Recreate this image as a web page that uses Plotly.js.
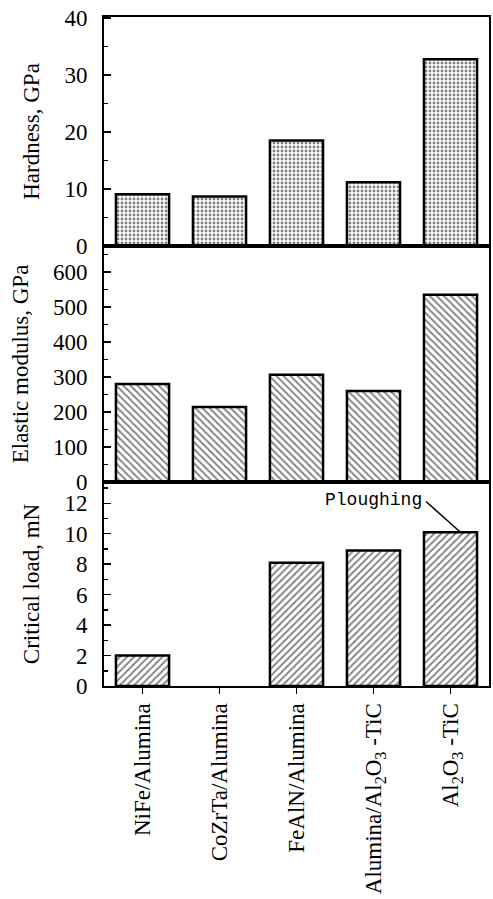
<!DOCTYPE html>
<html>
<head>
<meta charset="utf-8">
<script src="https://cdn.plot.ly/plotly-3.0.1.min.js"></script>
<style>html,body{margin:0;padding:0;background:#fff;}#chart{width:493px;height:899px;}</style>
</head>
<body>
<div id="chart"></div>
<script>
const categories = ['NiFe/Alumina', 'CoZrTa/Alumina', 'FeAlN/Alumina', 'Alumina/Al<sub>2</sub>O<sub>3</sub> -TiC', 'Al<sub>2</sub>O<sub>3</sub> -TiC'];
const hardness = [9.1, 8.7, 18.5, 11.2, 32.8];
const elasticModulus = [280, 214, 306, 260, 535];
const criticalLoad = [2.0, null, 8.1, 8.9, 10.1];
const yTitles = ['Hardness, GPa', 'Elastic modulus, GPa', 'Critical load, mN'];

const serif = 'Liberation Serif, Times New Roman, serif';
const F = 23;

function barTrace(y, xa, ya, shape, size, solidity) {
  return {
    type: 'bar', x: categories, y: y, xaxis: xa, yaxis: ya,
    marker: {
      color: 'white',
      line: {color: 'black', width: 2.5},
      pattern: {shape: shape, fgcolor: 'black', bgcolor: 'white', size: size, solidity: solidity, fillmode: 'overlay'}
    },
    hoverinfo: 'skip', showlegend: false
  };
}

const data = [
  barTrace(hardness, 'x', 'y', '.', 4, 0.4),
  barTrace(elasticModulus, 'x2', 'y2', '\\', 5, 0.35),
  barTrace(criticalLoad, 'x3', 'y3', '/', 5, 0.35)
];

function xAxis(anchor, showLabels) {
  return {
    domain: [0, 1], anchor: anchor, type: 'category', range: [-0.5, 4.5],
    showline: true, mirror: true, linecolor: 'black', linewidth: 2,
    showgrid: false, zeroline: false,
    showticklabels: showLabels,
    ticks: showLabels ? 'outside' : '', ticklen: 6, tickwidth: 1.5, tickcolor: 'black',
    tickangle: -90,
    tickfont: {family: serif, size: F, color: 'black'}
  };
}
function yAxis(anchor, domain, range, dtick, minorDtick, title) {
  return {
    domain: domain, anchor: anchor, range: range, dtick: dtick, tick0: 0,
    showline: true, mirror: true, linecolor: 'black', linewidth: 2,
    showgrid: false, zeroline: false,
    ticks: 'inside', ticklen: 7, tickwidth: 1.5, tickcolor: 'black',
    minor: {dtick: minorDtick, ticks: 'inside', ticklen: 4, tickwidth: 1.5, tickcolor: 'black', showgrid: false},
    ticklabelstandoff: 10,
    tickfont: {family: serif, size: F, color: 'black'},
    title: {text: title, font: {family: serif, size: F, color: 'black'}, standoff: 18}
  };
}

const layout = {
  width: 493, height: 899,
  margin: {l: 104, r: 4, t: 17, b: 213},
  paper_bgcolor: 'white', plot_bgcolor: 'white',
  bargap: 0.31,
  showlegend: false,
  xaxis: xAxis('y', false),
  xaxis2: xAxis('y2', false),
  xaxis3: xAxis('y3', true),
  yaxis: yAxis('x', [0.6577, 1], [0, 40.2], 10, 5, yTitles[0]),
  yaxis2: yAxis('x2', [0.305, 0.6577], [0, 674], 100, 50, yTitles[1]),
  yaxis3: yAxis('x3', [0, 0.305], [0, 13.4], 2, 1, yTitles[2]),
  annotations: [
    {xref: 'x3', yref: 'y3', x: 3.0, y: 12.2, text: 'Ploughing', showarrow: false,
     font: {family: 'Liberation Mono, Courier New, monospace', size: 18, color: 'black'}},
    {xref: 'x3', yref: 'y3', x: 4.13, y: criticalLoad[4], text: ' ', showarrow: true,
     arrowhead: 0, arrowwidth: 1.5, arrowcolor: 'black', ax: -36, ay: -32,
     font: {size: 1}}
  ]
};

Plotly.newPlot('chart', data, layout, {staticPlot: true, displayModeBar: false});
</script>
</body>
</html>
